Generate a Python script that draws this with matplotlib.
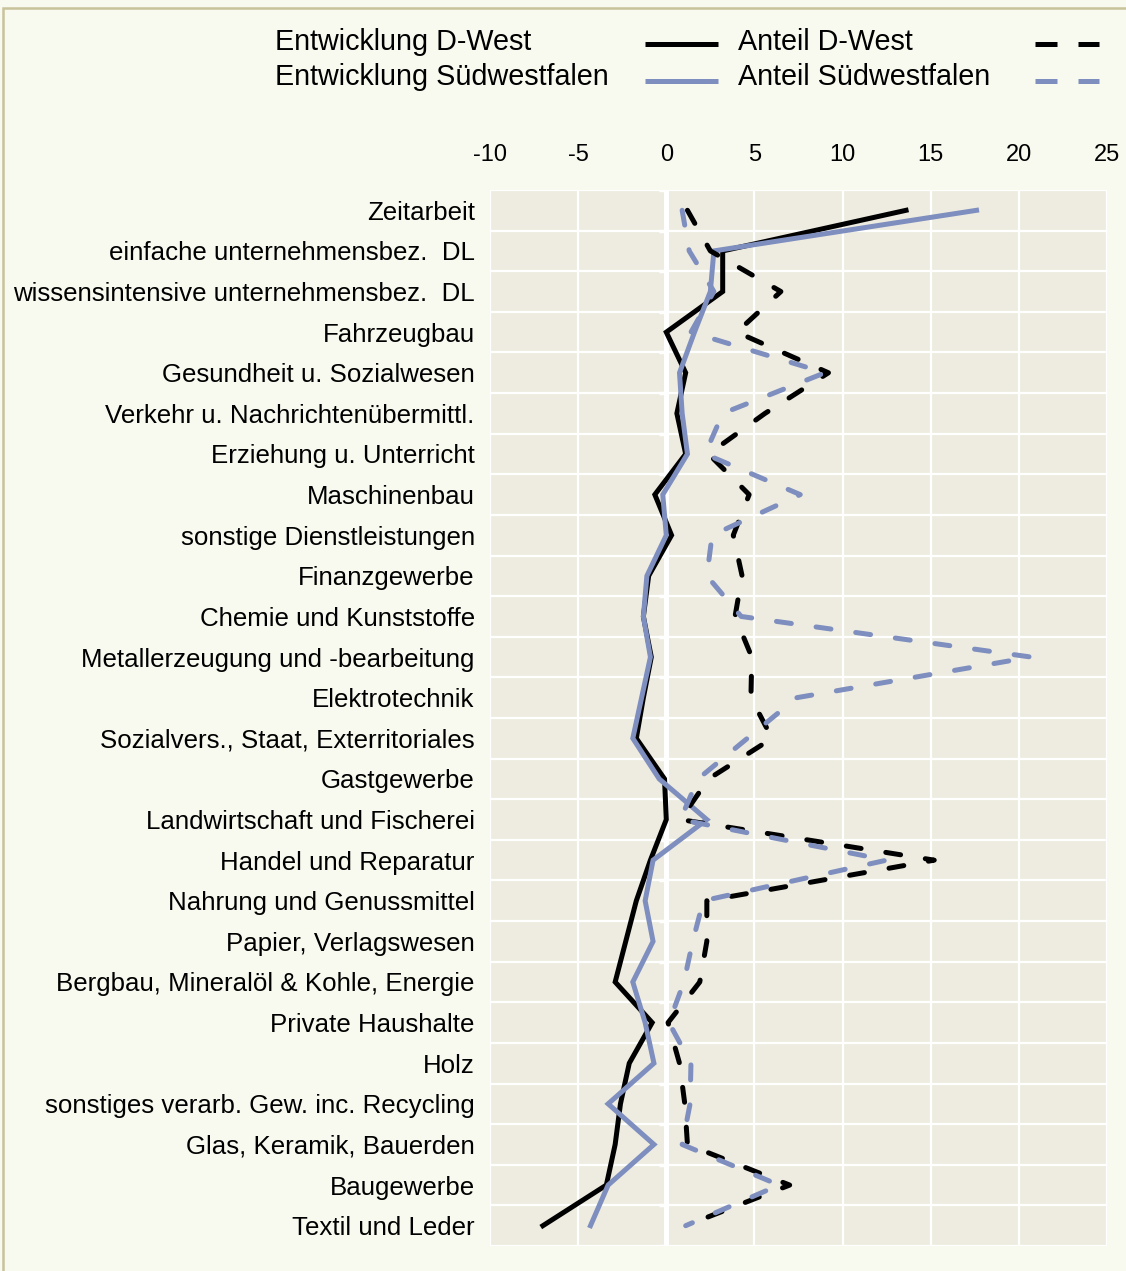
import numpy as np
import matplotlib
matplotlib.use("Agg")
import matplotlib.pyplot as plt
from matplotlib.lines import Line2D
from matplotlib.patches import Rectangle

plt.rcParams['font.family'] = ['Liberation Sans', 'DejaVu Sans']

categories = [
    "Zeitarbeit",
    "einfache unternehmensbez.  DL",
    "wissensintensive unternehmensbez.  DL",
    "Fahrzeugbau",
    "Gesundheit u. Sozialwesen",
    "Verkehr u. Nachrichtenübermittl.",
    "Erziehung u. Unterricht",
    "Maschinenbau",
    "sonstige Dienstleistungen",
    "Finanzgewerbe",
    "Chemie und Kunststoffe",
    "Metallerzeugung und -bearbeitung",
    "Elektrotechnik",
    "Sozialvers., Staat, Exterritoriales",
    "Gastgewerbe",
    "Landwirtschaft und Fischerei",
    "Handel und Reparatur",
    "Nahrung und Genussmittel",
    "Papier, Verlagswesen",
    "Bergbau, Mineralöl & Kohle, Energie",
    "Private Haushalte",
    "Holz",
    "sonstiges verarb. Gew. inc. Recycling",
    "Glas, Keramik, Bauerden",
    "Baugewerbe",
    "Textil und Leder",
]

entwicklung_dwest = [13.6, 3.2, 3.2, 0.0, 1.1, 0.6, 1.1, -0.65, 0.3, -1.0, -1.3, -0.85, -1.3,
                     -1.7, -0.1, 0.0, -0.9, -1.7, -2.3, -2.9, -0.8, -2.1, -2.6, -2.9, -3.4, -7.0]
entwicklung_swf = [17.6, 2.7, 2.5, 1.6, 0.75, 0.9, 1.2, -0.2, 0.0, -1.1, -1.3, -0.9, -1.4,
                   -1.9, -0.4, 2.3, -0.75, -1.2, -0.75, -1.9, -1.2, -0.7, -3.3, -0.7, -3.3, -4.3]
anteil_dwest = [1.2, 2.5, 6.5, 4.0, 9.2, 5.6, 2.4, 4.7, 3.8, 4.3, 3.9, 4.85, 4.8,
                6.0, 2.4, 0.8, 15.2, 2.3, 2.3, 1.9, 0.1, 0.75, 1.05, 1.2, 7.0, 1.1]
anteil_swf = [0.9, 1.3, 2.7, 1.4, 9.0, 3.2, 2.2, 7.6, 2.6, 2.3, 4.25, 20.7, 7.4,
              4.6, 1.8, 0.8, 12.5, 2.1, 1.5, 1.0, 0.15, 1.4, 1.35, 0.9, 6.4, 1.1]

xticks = [-10, -5, 0, 5, 10, 15, 20, 25]

BLUE = '#7E8EBF'
W, H = 1126, 1271
fig = plt.figure(figsize=(W / 100, H / 100), dpi=100)
fig.patch.set_facecolor('#F9FAEF')

# border
fig.add_artist(Rectangle((3 / W, -0.1), 1.2, 1.1 - 8 / H, transform=fig.transFigure,
                         facecolor='none', edgecolor='#C9C39B', lw=1.8))

ax = fig.add_axes([490 / W, 1 - 1246 / H, 617 / W, (1246 - 190) / H])
ax.set_facecolor('#EEECE0')
n = len(categories)
y = np.arange(n)
ax.set_xlim(-10, 25)
ax.set_ylim(n - 0.5, -0.5)

ax.set_xticks(xticks)
ax.set_xticklabels([str(t) for t in xticks], fontsize=17)
ax.xaxis.tick_top()
ax.tick_params(axis='x', length=0, pad=17)

ax.set_yticks(y)
ax.set_yticklabels(categories, fontsize=18.6)
ax.tick_params(axis='y', length=0, pad=11)
ax.set_yticks(np.arange(-0.5, n, 1), minor=True)
ax.tick_params(axis='y', which='minor', length=0)

ax.grid(which='major', axis='x', color='white', lw=1.6, zorder=0)
ax.grid(which='minor', axis='y', color='white', lw=1.6, zorder=0)
ax.grid(which='major', axis='y', visible=False)
ax.set_axisbelow(True)
for s in ax.spines.values():
    s.set_visible(False)

ax.axvline(0, color='white', lw=3.6, zorder=1)
ax.hlines(np.arange(-0.5, n, 1), -0.42, 0, color='white', lw=2.5, zorder=1)

lw = 3.6
dash = (0, (3, 5))
ax.plot(entwicklung_dwest, y, color='black', lw=lw, solid_joinstyle='miter', zorder=3)
ax.plot(entwicklung_swf, y, color=BLUE, lw=lw, solid_joinstyle='miter', zorder=4)
ax.plot(anteil_dwest, y, color='black', lw=lw, ls=dash, dash_capstyle='round', zorder=5)
ax.plot(anteil_swf, y, color=BLUE, lw=lw, ls=dash, dash_capstyle='round', zorder=6)

# legend (manual, text left of handle)
def leg_text(x, yy, s):
    fig.text(x / W, 1 - yy / H, s, ha='left', va='center', fontsize=20.7)

def leg_line(x0, x1, yy, color, ls):
    fig.add_artist(Line2D([x0 / W, x1 / W], [1 - yy / H] * 2, transform=fig.transFigure,
                          color=color, lw=lw, ls=ls, dash_capstyle='butt', solid_capstyle='butt'))

leg_text(275, 42, 'Entwicklung D-West')
leg_text(275, 77, 'Entwicklung Südwestfalen')
leg_text(738, 42, 'Anteil D-West')
leg_text(738, 77, 'Anteil Südwestfalen')
leg_line(645, 718, 44, 'black', '-')
leg_line(645, 718, 81, BLUE, '-')
leg_line(1035, 1099, 44, 'black', (0, (4.4, 4.2)))
leg_line(1035, 1099, 81, BLUE, (0, (4.4, 4.2)))

fig.savefig('out.png', dpi=100, facecolor=fig.get_facecolor())
